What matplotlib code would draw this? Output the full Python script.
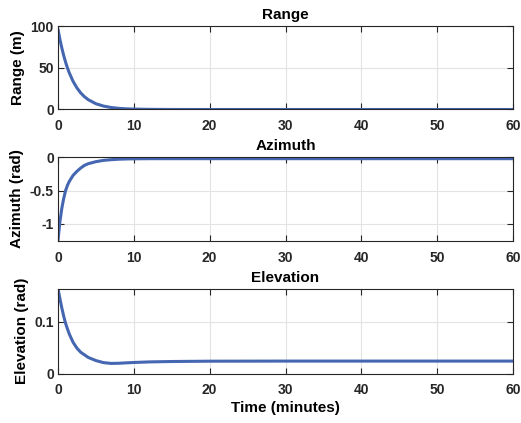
import matplotlib
matplotlib.use("Agg")
import matplotlib.pyplot as plt

plt.rcParams['font.family'] = ['Liberation Sans', 'DejaVu Sans']
plt.rcParams['font.weight'] = 'bold'
plt.rcParams['axes.unicode_minus'] = False

time_min = [0, 0.25, 0.5, 0.75, 1, 1.25, 1.5, 2, 2.5, 3, 3.5, 4, 5, 6, 7, 8, 9,
            10, 12, 15, 20, 30, 40, 50, 60]
range_m = [96, 84.2, 73.8, 64.7, 56.7, 49.7, 43.6, 33.5, 25.8, 19.8, 15.2, 11.7,
           6.9, 4.1, 2.4, 1.4, 0.8, 0.5, 0.2, 0.04, 0, 0, 0, 0, 0]
azimuth_rad = [-1.25, -0.97, -0.77, -0.62, -0.50, -0.42, -0.36, -0.27, -0.21,
               -0.16, -0.12, -0.095, -0.065, -0.045, -0.035, -0.028, -0.024,
               -0.022, -0.02, -0.02, -0.02, -0.02, -0.02, -0.02, -0.02]
elevation_rad = [0.164, 0.145, 0.127, 0.111, 0.097, 0.086, 0.076, 0.060, 0.049,
                 0.041, 0.036, 0.031, 0.025, 0.021, 0.0195, 0.0198, 0.0206,
                 0.0213, 0.0224, 0.0232, 0.0238, 0.024, 0.024, 0.024, 0.024]

titles = ['Range', 'Azimuth', 'Elevation']
ylabels = ['Range (m)', 'Azimuth (rad)', 'Elevation (rad)']
series = [range_m, azimuth_rad, elevation_rad]
ylims = [(0, 100), (-1.26, 0.01), (0, 0.164)]
yticks = [[0, 50, 100], [-1, -0.5, 0], [0, 0.1]]
yticklabels = [['0', '50', '100'], ['-1', '-0.5', '0'], ['0', '0.1']]
xticks = [0, 10, 20, 30, 40, 50, 60]

W, H = 521, 423
fig = plt.figure(figsize=(W / 100, H / 100), dpi=100)
boxes = [(26, 109.5), (156.7, 241), (288.7, 373.5)]
left, right = 58, 513
line_color = '#4566b0'
spine_color = '#262626'

for i, (top, bot) in enumerate(boxes):
    ax = fig.add_axes([left / W, 1 - bot / H, (right - left) / W, (bot - top) / H])
    ax.plot(time_min, series[i], color=line_color, lw=2.2, solid_capstyle='round')
    ax.set_xlim(0, 60)
    ax.set_ylim(*ylims[i])
    ax.set_xticks(xticks)
    ax.set_xticklabels([str(x) for x in xticks])
    ax.set_yticks(yticks[i])
    ax.set_yticklabels(yticklabels[i])
    ax.grid(True, color='#e3e3e3', lw=0.8)
    ax.set_axisbelow(True)
    for s in ax.spines.values():
        s.set_color(spine_color)
        s.set_linewidth(0.8)
    ax.tick_params(direction='in', length=4, width=0.8, colors=spine_color,
                   top=True, right=True, labelsize=10)
    ax.tick_params(axis='x', pad=7)
    ax.tick_params(axis='y', pad=3)
    for lab in ax.get_xticklabels() + ax.get_yticklabels():
        lab.set_fontweight('bold')
        lab.set_color('#262626')
    ax.set_title(titles[i], fontsize=11, fontweight='bold', pad=5)
    ax.set_ylabel(ylabels[i], fontsize=11, fontweight='bold', labelpad=4)
    if i == 2:
        ax.set_xlabel('Time (minutes)', fontsize=11, fontweight='bold', labelpad=3)

fig.savefig('out.png', dpi=100)
